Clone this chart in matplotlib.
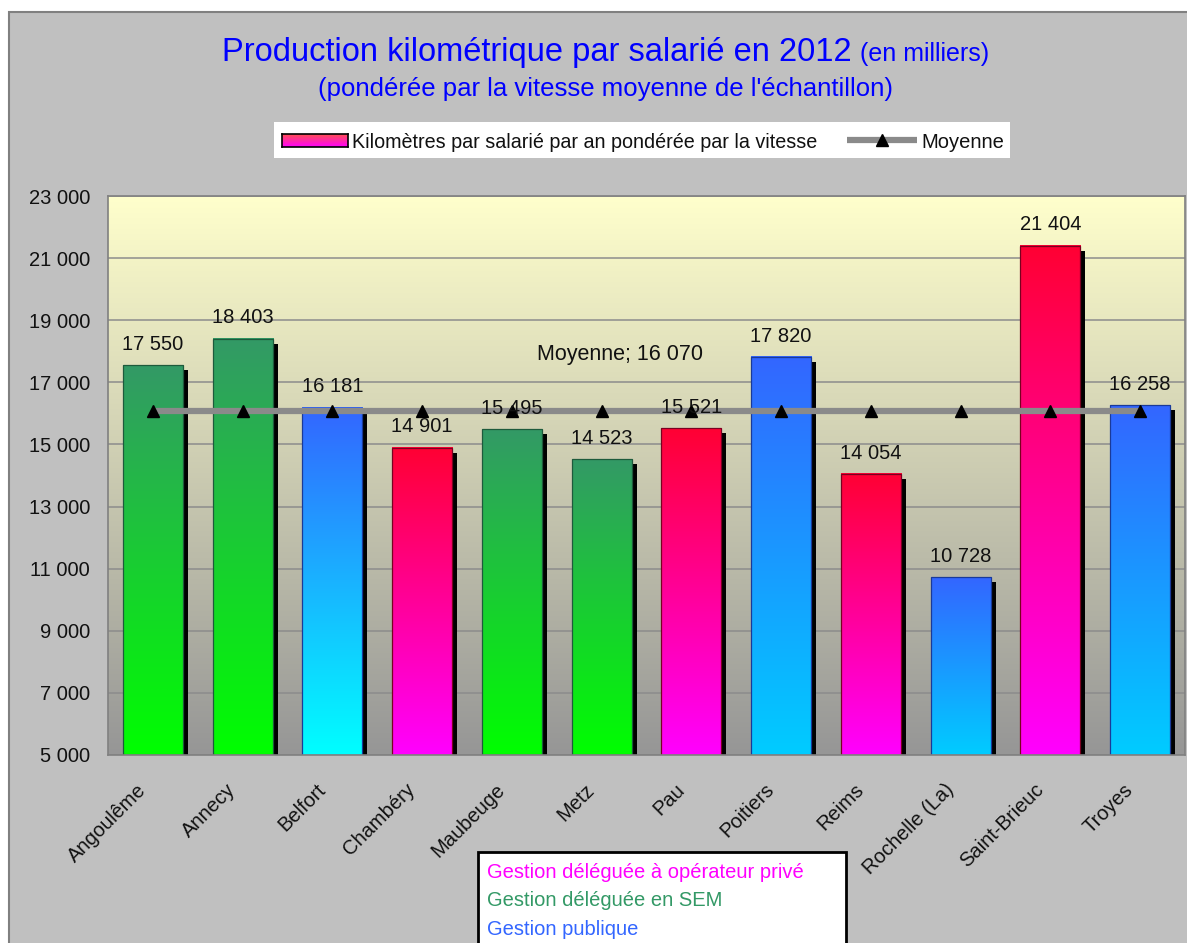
import numpy as np
import matplotlib
matplotlib.use("Agg")
import matplotlib.pyplot as plt
import matplotlib.transforms as mtransforms
from matplotlib.colors import LinearSegmentedColormap
from matplotlib.patches import Rectangle
from matplotlib.lines import Line2D

# ---- data -----------------------------------------------------------------
cities = ["Angoulême", "Annecy", "Belfort", "Chambéry", "Maubeuge", "Metz",
          "Pau", "Poitiers", "Reims", "Rochelle (La)", "Saint-Brieuc", "Troyes"]
km_per_employee = [17550, 18403, 16181, 14901, 15495, 14523,
                   15521, 17820, 14054, 10728, 21404, 16258]
management = ["SEM", "SEM", "public", "private", "SEM", "SEM",
              "private", "public", "private", "public", "private", "public"]
average = 16070
y_ticks = [5000, 7000, 9000, 11000, 13000, 15000, 17000, 19000, 21000, 23000]

title_main = "Production kilométrique par salarié en 2012"
title_unit = "(en milliers)"
subtitle = "(pondérée par la vitesse moyenne de l'échantillon)"
series_label = "Kilomètres par salarié par an pondérée par la vitesse"
average_label = "Moyenne"
group_order = ["private", "SEM", "public"]
group_labels = {"private": "Gestion déléguée à opérateur privé",
                "SEM": "Gestion déléguée en SEM",
                "public": "Gestion publique"}

# ---- style ----------------------------------------------------------------
W, H, DPI = 1187, 943, 100
FONT = ["Liberation Sans", "DejaVu Sans"]
plt.rcParams["font.family"] = FONT

# (top colour, bottom colour) of each bar's vertical gradient
GRADIENTS = {"SEM": ("#339966", "#00FF00"),
             "public": ("#3366FF", "#00CCFF"),
             "private": ("#FF0033", "#FF00FF")}
GRADIENT_OVERRIDE = {"Belfort": ("#3366FF", "#00FFFF")}
EDGES = {"SEM": "#1E5A3C", "public": "#1A3A99", "private": "#7A0020"}
GROUP_TEXT = {"private": "#FF00FF", "SEM": "#339966", "public": "#3366FF"}


def fmt(v):
    return f"{v:,}".replace(",", " ")


def ramp(bottom, top):
    return LinearSegmentedColormap.from_list("ramp", [bottom, top])


fig = plt.figure(figsize=(W / DPI, H / DPI), dpi=DPI, facecolor="white")
# pixel coordinates with origin at top-left
px = mtransforms.Affine2D().scale(1 / W, -1 / H).translate(0, 1) + fig.transFigure

# grey chart area
fig.add_artist(Rectangle((9, 12), W, H, transform=px, facecolor="#C0C0C0",
                         edgecolor="#808080", lw=1.5, zorder=-10))

ax = fig.add_axes([108 / W, 1 - 755 / H, (1185 - 108) / W, (755 - 196) / H])
ax.patch.set_visible(False)

x = np.arange(len(cities))
bw = 0.67
base = y_ticks[0]
ymax = y_ticks[-1]

# plot-area background gradient
grad = np.linspace(0, 1, 256).reshape(-1, 1)
ax.imshow(grad, extent=(-0.5, len(cities) - 0.5, base, ymax), origin="lower",
          aspect="auto", cmap=ramp("#969696", "#FFFFCC"), zorder=0,
          interpolation="bicubic")

# drop shadows: same bars shifted 5 px right and down
heights = np.array(km_per_employee) - base
shadows = ax.bar(x, heights, bottom=base, width=bw, color="black", lw=0, zorder=1)
shift = mtransforms.ScaledTranslation(5 / DPI, -5 / DPI, fig.dpi_scale_trans)
for p in shadows:
    p.set_transform(ax.transData + shift)

# gradient-filled bars
for xi, v, g, c in zip(x, km_per_employee, management, cities):
    top, bottom = GRADIENT_OVERRIDE.get(c, GRADIENTS[g])
    ax.imshow(grad, extent=(xi - bw / 2, xi + bw / 2, base, v), origin="lower",
              aspect="auto", cmap=ramp(bottom, top), zorder=2,
              interpolation="bicubic")
ax.bar(x, heights, bottom=base, width=bw, fill=False,
       edgecolor=[EDGES[g] for g in management], lw=0.9, zorder=2.5)

# average line
ax.plot(x, [average] * len(x), color="#8A8A8A", lw=4.5, marker="^", ms=9,
        mfc="black", mec="black", zorder=3, solid_capstyle="butt")
ax.annotate(f"{average_label}; {fmt(average)}", xy=(x[5], average),
            xytext=(13, 37), textcoords="offset points", ha="center",
            va="baseline", fontsize=15.5, color="#111111", zorder=5)

# value labels
for xi, v in zip(x, km_per_employee):
    ax.annotate(fmt(v), xy=(xi, v), xytext=(0, 11), textcoords="offset points",
                ha="center", va="baseline", fontsize=14.5, color="#111111",
                zorder=5)

ax.set_xlim(-0.5, len(cities) - 0.5)
ax.set_ylim(base, ymax)
ax.set_yticks(y_ticks, [fmt(t) for t in y_ticks])
ax.yaxis.grid(True, color="#8C8C8C", lw=1.1)
ax.set_axisbelow(True)
ax.tick_params(axis="y", length=0, pad=13, labelsize=14.5, labelcolor="#111111")
ax.set_xticks(x, cities, rotation=45, ha="right", va="center",
              rotation_mode="anchor", fontsize=14.5, color="#111111")
ax.tick_params(axis="x", length=0, pad=23)
for lbl in ax.get_xticklabels():
    lbl.set_transform(lbl.get_transform() +
                      mtransforms.ScaledTranslation(-0.10, 0, fig.dpi_scale_trans))
for s in ax.spines.values():
    s.set_color("#808080")
    s.set_linewidth(1.2)

# titles
fig.text(222, 61, title_main, transform=px, ha="left", va="baseline",
         fontsize=23.5, color="#0000FF")
fig.text(860, 61, title_unit, transform=px, ha="left", va="baseline",
         fontsize=18, color="#0000FF")
fig.text(606, 96, subtitle, transform=px, ha="center", va="baseline",
         fontsize=18.5, color="#0000FF")

# series legend
fig.add_artist(Rectangle((274, 122), 736, 36, transform=px, facecolor="white",
                         edgecolor="none", zorder=1))
lax = fig.add_axes([282 / W, 1 - 147 / H, 66 / W, 13 / H], zorder=6)
lax.imshow(grad, origin="lower", aspect="auto",
           cmap=ramp("#FF00FF", "#FF5050"), extent=(0, 1, 0, 1))
lax.set_xticks([])
lax.set_yticks([])
for s in lax.spines.values():
    s.set_color("black")
    s.set_linewidth(1.2)
fig.text(352, 148, series_label, transform=px, ha="left", va="baseline",
         fontsize=14.2, color="#111111", zorder=6)
fig.add_artist(Line2D([847, 917], [140, 140], transform=px, color="#8A8A8A",
                      lw=4.5, solid_capstyle="butt", zorder=6))
fig.add_artist(Line2D([882], [140], transform=px, marker="^", ms=9,
                      mfc="black", mec="black", lw=0, zorder=7))
fig.text(921, 148, average_label, transform=px, ha="left", va="baseline",
         fontsize=14.5, color="#111111", zorder=6)

# management-type key
fig.add_artist(Rectangle((478, 852), 368, 120, transform=px, facecolor="white",
                         edgecolor="black", lw=2, zorder=1))
for i, g in enumerate(group_order):
    fig.text(487, 878 + 28.5 * i, group_labels[g], transform=px, ha="left",
             va="baseline", fontsize=14.5, color=GROUP_TEXT[g], zorder=6)

fig.savefig("out.png", dpi=DPI, facecolor="white")
